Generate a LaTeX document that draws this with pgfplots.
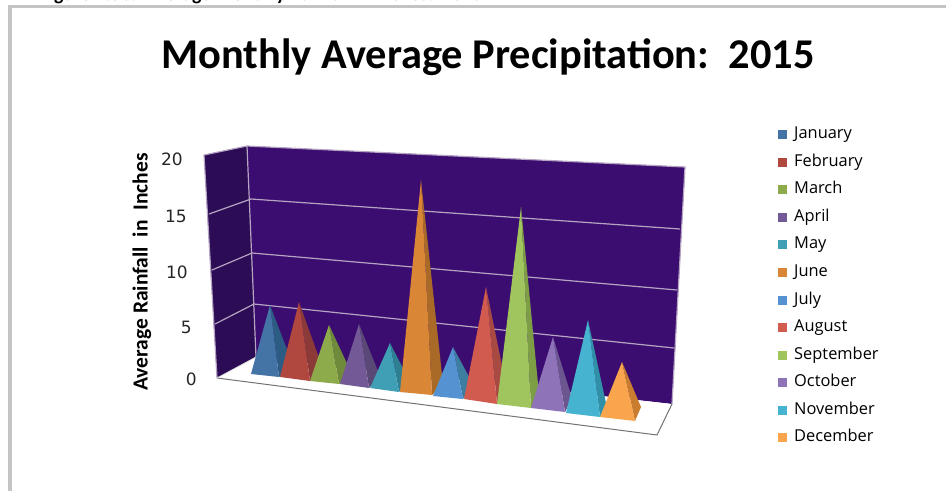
\documentclass[border=0pt]{standalone}
\usepackage{fontspec}
\setmainfont{Carlito}
\newfontfamily\legendfont{Open Sans}
\newfontfamily\tickfont{DejaVu Sans}
\usepackage{pgfplots}
\pgfplotsset{compat=1.18}
\definecolor{WallBack}{HTML}{3C0D70}
\definecolor{WallSide}{HTML}{2C0C55}
\definecolor{GridLine}{HTML}{B5A3C2}
\definecolor{Jan}{HTML}{4473A6}\definecolor{JanD}{HTML}{2C5C84}
\definecolor{Feb}{HTML}{B0483F}\definecolor{FebD}{HTML}{8C3A38}
\definecolor{Mar}{HTML}{8EAB4C}\definecolor{MarD}{HTML}{6E8A3A}
\definecolor{Apr}{HTML}{735A96}\definecolor{AprD}{HTML}{5A4876}
\definecolor{May}{HTML}{3F9FB5}\definecolor{MayD}{HTML}{2E7F92}
\definecolor{Jun}{HTML}{D98636}\definecolor{JunD}{HTML}{A86A26}
\definecolor{Jul}{HTML}{5592D2}\definecolor{JulD}{HTML}{3D7DA0}
\definecolor{Aug}{HTML}{D25B50}\definecolor{AugD}{HTML}{A84A42}
\definecolor{Sep}{HTML}{A0C55E}\definecolor{SepD}{HTML}{7D9E45}
\definecolor{Oct}{HTML}{8F73B8}\definecolor{OctD}{HTML}{6B5690}
\definecolor{Nov}{HTML}{46B3D0}\definecolor{NovD}{HTML}{3090A8}
\definecolor{Dec}{HTML}{F9A54E}\definecolor{DecD}{HTML}{C87E2E}
\pgfplotsset{
  sideface/.style={fill=#1,draw=none,forget plot},
  frontface/.style={fill=#1,draw=none},
  grid line/.style={color=GridLine,line width=1.2pt,forget plot},
}

\begin{document}
\begin{tikzpicture}
\begin{axis}[
    scale only axis,
    width=946pt,height=491pt,
    xmin=0,xmax=946,ymin=0,ymax=491,
    y dir=reverse,
    hide axis,
    clip=false,
    legend cell align=left,
    legend image code/.code={\fill[#1] (0pt,-4pt) rectangle (9pt,5pt);},
    legend style={
        at={(axis cs:778,128.5)},anchor=north west,
        draw=none,fill=none,inner sep=0pt,
        row sep=14.55pt,
        font=\legendfont\fontsize{16.4}{16.4}\selectfont,
        nodes={inner sep=0pt,text height=10pt,text depth=3pt},
        /tikz/every odd column/.append style={column sep=7pt},
    },
  ]
% frame
\addplot[color=black!23,line width=3.5pt,forget plot] coordinates {(10,491) (10,6.5) (946,6.5)};
% walls and floor
\addplot[fill=WallSide,draw=none,forget plot] coordinates {(204,155) (247,146) (256,357) (217,378)} --cycle;
\addplot[fill=WallBack,draw=none,forget plot] coordinates {(247,146) (685,167) (672,404) (256,357)} --cycle;
\addplot[fill=white,draw=none,forget plot] coordinates {(256,357) (672,404) (657,435) (217,378)} --cycle;
% wall edges
\addplot[grid line] coordinates {(204,155) (247,146) (685,167) (672,404)};
\addplot[grid line] coordinates {(247,146) (256,357)};
\addplot[grid line] coordinates {(204,155) (217,378)};
\addplot[color=black!55,line width=1pt,forget plot] coordinates {(217,378) (657,435) (672,404)};
\addplot[color=black!15,line width=.8pt,forget plot] coordinates {(217,378) (256,357)};
% gridlines at 15, 10, 5
\addplot[grid line] coordinates {(209,214) (251,199) (680,229)};
\addplot[grid line] coordinates {(212,270) (252,253) (677,290)};
\addplot[grid line] coordinates {(215,324) (254,304) (674,348)};

% pyramids, left to right so each one hides the side of the one before
\addplot[sideface=JanD] coordinates {(270,305) (279,377) (293,365)} --cycle;
\addplot[frontface=Jan] coordinates {(251,374) (279,377) (270,305)} --cycle;
\addlegendentry{January}
\addplot[sideface=FebD] coordinates {(299,302) (310,381) (323,369)} --cycle;
\addplot[frontface=Feb] coordinates {(280,377) (310,381) (299,302)} --cycle;
\addlegendentry{February}
\addplot[sideface=MarD] coordinates {(329,325) (339,384) (351,372)} --cycle;
\addplot[frontface=Mar] coordinates {(310,381) (339,384) (329,325)} --cycle;
\addlegendentry{March}
\addplot[sideface=AprD] coordinates {(359,324) (369,388) (380,376)} --cycle;
\addplot[frontface=Apr] coordinates {(340,384) (369,388) (359,324)} --cycle;
\addlegendentry{April}
\addplot[sideface=MayD] coordinates {(390,343) (399,392) (409,380)} --cycle;
\addplot[frontface=May] coordinates {(370,388) (399,392) (390,343)} --cycle;
\addlegendentry{May}
\addplot[sideface=JunD] coordinates {(421,180) (432,395) (443,384)} --cycle;
\addplot[frontface=Jun] coordinates {(400,392) (432,395) (421,180)} --cycle;
\addlegendentry{June}
\addplot[sideface=JulD] coordinates {(453,347) (463,399) (474,386)} --cycle;
\addplot[frontface=Jul] coordinates {(433,396) (463,399) (453,347)} --cycle;
\addlegendentry{July}
\addplot[sideface=AugD] coordinates {(486,287) (497,404) (507,390)} --cycle;
\addplot[frontface=Aug] coordinates {(464,399) (497,404) (486,287)} --cycle;
\addlegendentry{August}
\addplot[sideface=SepD] coordinates {(521,207) (531,408) (539,394)} --cycle;
\addplot[frontface=Sep] coordinates {(497,404) (531,408) (521,207)} --cycle;
\addlegendentry{September}
\addplot[sideface=OctD] coordinates {(553,337) (565,412) (572,398)} --cycle;
\addplot[frontface=Oct] coordinates {(531,408) (565,412) (553,337)} --cycle;
\addlegendentry{October}
\addplot[sideface=NovD] coordinates {(588,320) (600,417) (606,403)} --cycle;
\addplot[frontface=Nov] coordinates {(566,413) (600,417) (588,320)} --cycle;
\addlegendentry{November}
\addplot[sideface=DecD] coordinates {(622,362) (635,421) (641,407)} --cycle;
\addplot[frontface=Dec] coordinates {(600,417) (635,421) (622,362)} --cycle;
\addlegendentry{December}

% texts
\node[font=\bfseries\fontsize{42.4}{42.4}\selectfont,anchor=center] at (axis cs:488,57) {Monthly Average Precipitation:\ \ 2015};
\node[font=\bfseries\fontsize{19.7}{19.7}\selectfont,anchor=base west,inner sep=0pt] at (axis cs:40,0) {Figure 1.8b:\ \ Average Monthly Rainfall in Inches:\ \ 2015};
\node[font=\bfseries\fontsize{21.5}{21.5}\selectfont,rotate=90,anchor=center] at (axis cs:142,272) {Average Rainfall\ \ in\ \ Inches};
\foreach \lab/\xr/\yc in {20/183/159,15/187/216,10/188/272,5/192/327,0/197/379}{
  \edef\temp{\noexpand\node[font=\noexpand\tickfont\noexpand\fontsize{17}{17}\noexpand\selectfont,anchor=east,inner sep=0pt,text=black!85] at (axis cs:\xr,\yc) {\lab};}
  \temp
}
\end{axis}
\pgfresetboundingbox
\path[use as bounding box] (0,0) rectangle (946pt,491pt);
\end{tikzpicture}
\end{document}
